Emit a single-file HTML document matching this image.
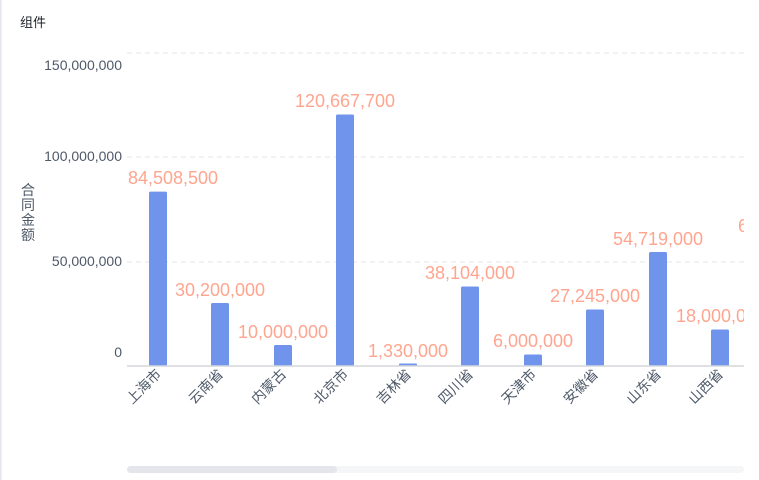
<!DOCTYPE html>
<html><head><meta charset="utf-8"><style>
body{margin:0;background:#fff;width:759px;height:480px;overflow:hidden}
svg{display:block;font-family:"Liberation Sans","Noto Sans CJK SC",sans-serif}
</style></head><body>
<svg width="759" height="480" viewBox="0 0 759 480">
<rect x="0" y="0" width="1.5" height="480" fill="#e3e6ef"/>
<text x="20" y="27" font-size="13" fill="#1d2129">组件</text>
<g stroke="#e5e6eb" stroke-dasharray="5,4" stroke-width="1">
<line x1="127" y1="53" x2="744" y2="53"/>
<line x1="127" y1="157" x2="744" y2="157"/>
<line x1="127" y1="262" x2="744" y2="262"/>
</g>
<g font-size="14" fill="#4e5969" text-anchor="end">
<text x="122" y="70">150,000,000</text>
<text x="122" y="161">100,000,000</text>
<text x="122" y="266">50,000,000</text>
<text x="122" y="357">0</text>
</g>
<g font-size="14" fill="#4e5969" text-anchor="middle">
<text x="28" y="195">合</text>
<text x="28" y="210">同</text>
<text x="28" y="225">金</text>
<text x="28" y="240">额</text>
</g>
<defs><clipPath id="c"><rect x="120" y="0" width="624" height="480"/></clipPath></defs>
<g clip-path="url(#c)">
<g fill="#7094ec">
<rect x="149" y="191.6" width="18" height="174.4" rx="1.5"/>
<rect x="211" y="303" width="18" height="63" rx="1.5"/>
<rect x="274" y="345" width="18" height="21" rx="1.5"/>
<rect x="336" y="114.5" width="18" height="251.5" rx="1.5"/>
<rect x="399" y="363.5" width="18" height="2.5" rx="1"/>
<rect x="461" y="286.5" width="18" height="79.5" rx="1.5"/>
<rect x="524" y="354.5" width="18" height="11.5" rx="1.5"/>
<rect x="586" y="309.5" width="18" height="56.5" rx="1.5"/>
<rect x="649" y="252" width="18" height="114" rx="1.5"/>
<rect x="711" y="329.5" width="18" height="36.5" rx="1.5"/>
</g>
<g font-size="18" fill="#ffa58f" text-anchor="middle">
<text x="173" y="184">84,508,500</text>
<text x="220" y="296">30,200,000</text>
<text x="283" y="338">10,000,000</text>
<text x="345" y="107">120,667,700</text>
<text x="408" y="357">1,330,000</text>
<text x="470" y="279">38,104,000</text>
<text x="533" y="347">6,000,000</text>
<text x="595" y="302">27,245,000</text>
<text x="658" y="245">54,719,000</text>
<text x="721" y="322">18,000,000</text>
<text x="783" y="232">60,000,000</text>
</g>
</g>
<line x1="127" y1="366" x2="744" y2="366" stroke="#d4d6db" stroke-width="1.5"/>
<g font-size="14" fill="#4e5969" text-anchor="end">
<text transform="translate(162,375) rotate(-45)">上海市</text>
<text transform="translate(224,375) rotate(-45)">云南省</text>
<text transform="translate(287,375) rotate(-45)">内蒙古</text>
<text transform="translate(349,375) rotate(-45)">北京市</text>
<text transform="translate(412,375) rotate(-45)">吉林省</text>
<text transform="translate(474,375) rotate(-45)">四川省</text>
<text transform="translate(537,375) rotate(-45)">天津市</text>
<text transform="translate(599,375) rotate(-45)">安徽省</text>
<text transform="translate(662,375) rotate(-45)">山东省</text>
<text transform="translate(724,375) rotate(-45)">山西省</text>
</g>
<rect x="127" y="466" width="617" height="7" rx="3.5" fill="#f5f6f8"/>
<rect x="127" y="466" width="210" height="7" rx="3.5" fill="#e5e6eb"/>
</svg>
</body></html>
